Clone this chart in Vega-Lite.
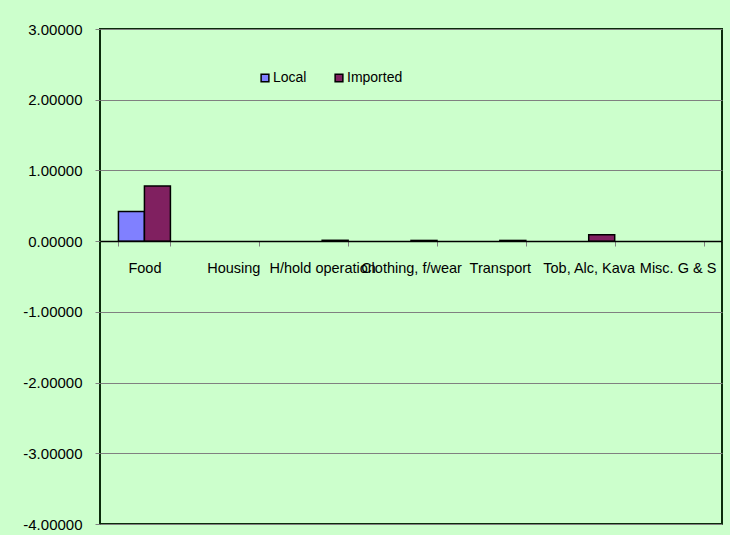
{
  "$schema": "https://vega.github.io/schema/vega-lite/v6.json",
  "width": 622,
  "height": 495,
  "autosize": {"type": "none"},
  "padding": {"left": 100, "top": 29, "right": 8, "bottom": 11},
  "background": "#CCFFCC",
  "config": {
    "font": "Liberation Sans",
    "view": {"fill": "#CCFFCC", "stroke": "#0b2b0b", "strokeWidth": 2}
  },
  "data": {
    "values": [
      {"category": "Food", "series": "Local", "value": 0.42},
      {"category": "Food", "series": "Imported", "value": 0.78},
      {"category": "Housing", "series": "Local", "value": 0},
      {"category": "Housing", "series": "Imported", "value": 0},
      {"category": "H/hold operation", "series": "Local", "value": 0},
      {"category": "H/hold operation", "series": "Imported", "value": 0.012},
      {"category": "Clothing, f/wear", "series": "Local", "value": 0},
      {"category": "Clothing, f/wear", "series": "Imported", "value": 0.01},
      {"category": "Transport", "series": "Local", "value": 0},
      {"category": "Transport", "series": "Imported", "value": 0.01},
      {"category": "Tob, Alc, Kava", "series": "Local", "value": 0},
      {"category": "Tob, Alc, Kava", "series": "Imported", "value": 0.09},
      {"category": "Misc. G & S", "series": "Local", "value": 0},
      {"category": "Misc. G & S", "series": "Imported", "value": 0}
    ]
  },
  "transform": [{"filter": "datum.value != 0"}],
  "mark": {"type": "bar", "stroke": "#000000", "strokeWidth": 1.5},
  "encoding": {
    "x": {
      "field": "category",
      "type": "nominal",
      "sort": ["Food", "Housing", "H/hold operation", "Clothing, f/wear", "Transport", "Tob, Alc, Kava", "Misc. G & S"],
      "scale": {"domain": ["Food", "Housing", "H/hold operation", "Clothing, f/wear", "Transport", "Tob, Alc, Kava", "Misc. G & S"], "paddingInner": 0.415, "paddingOuter": 0.2075},
      "axis": {
        "title": null,
        "orient": "bottom",
        "offset": -283,
        "domainColor": "#000000",
        "domainWidth": 1.5,
        "tickBand": "extent",
        "tickColor": "#808080",
        "tickSize": 5,
        "labelAngle": 0,
        "labelFontSize": 14.5,
        "labelColor": "#000000",
        "labelPadding": 15,
        "labelOverlap": false,
        "labelLimit": 0,
        "labelBound": false,
        "labelFlush": false,
        "grid": false,
        "zindex": 1
      }
    },
    "xOffset": {
      "field": "series",
      "type": "nominal",
      "sort": ["Local", "Imported"],
      "scale": {"domain": ["Local", "Imported"], "paddingInner": 0, "paddingOuter": 0}
    },
    "y": {
      "field": "value",
      "type": "quantitative",
      "scale": {"domain": [-4, 3], "nice": false, "zero": false},
      "axis": {
        "title": null,
        "values": [-4, -3, -2, -1, 0, 1, 2, 3],
        "labelExpr": "replace(format(datum.value, '.5f'), '\u2212', '-')",
        "domain": false,
        "grid": true,
        "gridColor": "#808080",
        "gridWidth": 1,
        "tickColor": "#808080",
        "tickSize": 5,
        "labelFontSize": 15,
        "labelColor": "#000000",
        "labelPadding": 13
      }
    },
    "color": {
      "field": "series",
      "type": "nominal",
      "sort": ["Local", "Imported"],
      "scale": {"domain": ["Local", "Imported"], "range": ["#8080FF", "#802060"]},
      "legend": {
        "title": null,
        "orient": "none",
        "legendX": 158,
        "legendY": 42,
        "direction": "horizontal",
        "symbolType": "square",
        "symbolSize": 60,
        "symbolStrokeColor": "#000000",
        "symbolStrokeWidth": 1.5,
        "symbolOpacity": 1,
        "labelFontSize": 14,
        "labelColor": "#000000",
        "labelOffset": 1,
        "columnPadding": 25,
        "padding": 0
      }
    }
  }
}
